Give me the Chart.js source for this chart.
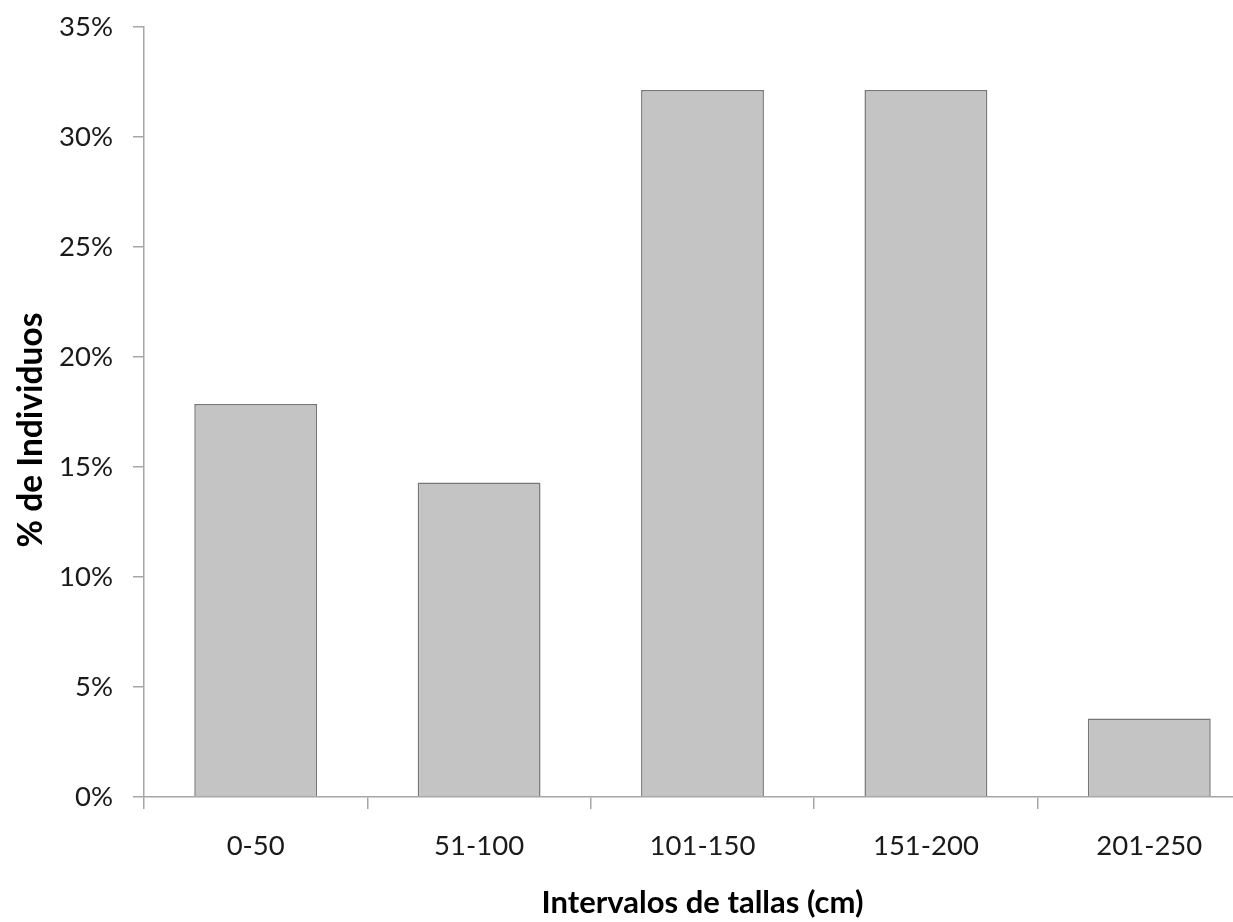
<!DOCTYPE html>
<html><head><meta charset="utf-8">
<script src="https://cdn.jsdelivr.net/npm/chart.js@4.4.0/dist/chart.umd.min.js"></script>
<style>
html,body{margin:0;padding:0;overflow:hidden;background:#fff;}
#wrap{position:absolute;left:0;top:0;width:1265px;height:922px;}
</style></head>
<body>
<div id="wrap"><canvas id="c" width="1265" height="922"></canvas></div>
<script>
const categories = ["0-50","51-100","101-150","151-200","201-250"];
const percentValues = [17.86, 14.29, 32.14, 32.14, 3.57];
const yTicks = [0,5,10,15,20,25,30,35];
const xTitle = "Intervalos de tallas (cm)";
const yTitle = "% de Individuos";

const FONT = "Lato, 'Open Sans', sans-serif";

// Draw the y-axis title slightly below the axis centre, as in the reference
const yTitlePlugin = {
  id: 'yTitlePlugin',
  afterDraw(chart) {
    const ctx = chart.ctx;
    const area = chart.chartArea;
    ctx.save();
    ctx.translate(31, (area.top + area.bottom) / 2 + 18);
    ctx.rotate(-Math.PI / 2);
    ctx.font = "bold 33.5px " + FONT;
    ctx.fillStyle = '#000';
    ctx.textAlign = 'center';
    ctx.textBaseline = 'middle';
    ctx.fillText(yTitle, 0, 0);
    ctx.restore();
  }
};

new Chart(document.getElementById('c'), {
  type: 'bar',
  data: {
    labels: categories,
    datasets: [{
      data: percentValues,
      backgroundColor: '#c4c4c4',
      borderColor: '#777777',
      borderWidth: 1.5,
      categoryPercentage: 1.0,
      barPercentage: 0.55
    }]
  },
  plugins: [yTitlePlugin],
  options: {
    responsive: false,
    animation: false,
    layout: { padding: { left: 0, top: 27, right: 4, bottom: 0 } },
    plugins: { legend: { display: false }, tooltip: { enabled: false } },
    scales: {
      x: {
        grid: { drawOnChartArea: false, drawTicks: true, tickLength: 12, color: '#a6a6a6', lineWidth: 1.5 },
        border: { display: true, color: '#a6a6a6', width: 1.5 },
        ticks: { color: '#1a1a1a', font: { family: FONT, size: 27.5 }, padding: 21 },
        title: { display: true, text: xTitle, color: '#000', font: { family: FONT, size: 31, weight: 'bold' }, padding: { top: 10, bottom: 0 } },
        afterFit: s => { s.height = 125; s.paddingLeft = 0; s.paddingRight = 0; }
      },
      y: {
        min: 0, max: 35,
        afterBuildTicks: s => { s.ticks = yTicks.map(v => ({ value: v })); },
        grid: { drawOnChartArea: false, drawTicks: true, tickLength: 11, color: '#a6a6a6', lineWidth: 1.5 },
        border: { display: true, color: '#a6a6a6', width: 1.5 },
        ticks: { color: '#1a1a1a', font: { family: FONT, size: 27.5 }, padding: 20, callback: v => v + '%' },
        title: { display: false, text: yTitle },
        afterFit: s => { s.width = 144; s.paddingTop = 0; s.paddingBottom = 0; }
      }
    }
  }
});
</script>
</body></html>
